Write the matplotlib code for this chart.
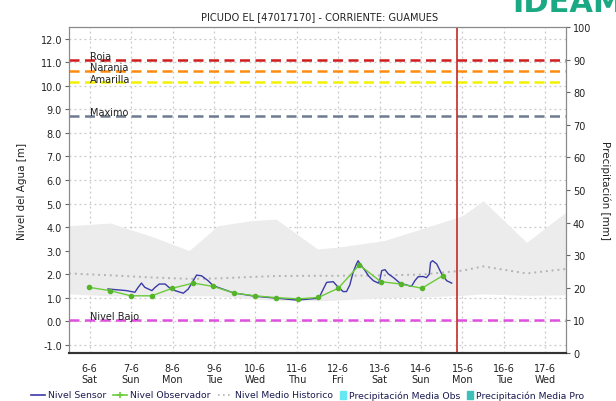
import matplotlib
matplotlib.use("Agg")
import matplotlib.pyplot as plt
from matplotlib.lines import Line2D
from matplotlib.patches import Rectangle

plt.rcParams['font.family'] = ['DejaVu Sans']

# ---- data (x = day of June 2020) ----
tick_days = [6, 7, 8, 9, 10, 11, 12, 13, 14, 15, 16, 17]
tick_dates = ["6-6", "7-6", "8-6", "9-6", "10-6", "11-6", "12-6", "13-6", "14-6", "15-6", "16-6", "17-6"]
tick_weekdays = ["Sat", "Sun", "Mon", "Tue", "Wed", "Thu", "Fri", "Sat", "Sun", "Mon", "Tue", "Wed"]

sensor_x = [6.44, 6.89, 7.09, 7.17, 7.25, 7.33, 7.50, 7.58, 7.68, 7.82, 7.94, 8.06,
            8.26, 8.38, 8.50, 8.58, 8.70, 8.86, 8.98, 9.48, 10.0, 10.5, 11.0, 11.5,
            11.56, 11.72, 11.88, 11.98, 12.12, 12.20, 12.28, 12.36, 12.44, 12.48,
            12.53, 12.65, 12.73, 12.85, 12.97, 13.01, 13.05, 13.13, 13.21, 13.33,
            13.49, 13.65, 13.77, 13.85, 13.93, 14.05, 14.13, 14.20, 14.23, 14.28,
            14.38, 14.50, 14.62, 14.74]
sensor_y = [1.37, 1.30, 1.23, 1.44, 1.62, 1.44, 1.30, 1.44, 1.58, 1.58, 1.40, 1.30,
            1.19, 1.37, 1.72, 1.96, 1.93, 1.72, 1.51, 1.20, 1.06, 0.98, 0.90, 0.97,
            1.08, 1.65, 1.68, 1.48, 1.26, 1.26, 1.54, 2.08, 2.43, 2.57,
            2.43, 2.15, 1.93, 1.72, 1.62, 1.79, 2.15, 2.19, 2.01, 1.86,
            1.62, 1.54, 1.48, 1.72, 1.89, 1.90, 1.85, 2.00, 2.50, 2.57,
            2.43, 2.00, 1.72, 1.62]

observer_x = [5.98, 6.49, 6.99, 7.50, 7.99, 8.50, 8.98, 9.48, 9.99, 10.51,
              11.04, 11.52, 12.00, 12.51, 13.03, 13.51, 14.02, 14.52]
observer_y = [1.44, 1.30, 1.08, 1.08, 1.40, 1.62, 1.48, 1.20, 1.08, 1.00,
              0.95, 1.01, 1.40, 2.39, 1.68, 1.58, 1.40, 1.93]

hist_x = [5.5, 6.5, 7.5, 8.4, 9.1, 9.9, 10.5, 11.5, 12.0, 13.1, 14.0, 15.0, 15.5, 16.55, 17.5]
hist_max = [4.06, 4.17, 3.60, 3.00, 4.06, 4.27, 4.34, 3.07, 3.15, 3.42, 3.92, 4.48, 5.12, 3.35, 4.64]
hist_min = [1.16, 1.08, 1.06, 1.08, 1.08, 0.95, 0.88, 0.87, 0.90, 1.00, 1.03, 1.10, 1.16, 1.10, 1.12]
hist_mean = [2.03, 1.95, 1.86, 1.80, 1.82, 1.88, 1.92, 1.93, 1.93, 1.95, 1.98, 2.15, 2.33, 2.03, 2.22]

levels = ["Roja", "Naranja", "Amarilla", "Maximo", "Nivel Bajo"]
level_values = [11.1, 10.63, 10.15, 8.72, 0.05]
level_colors = ["#d01c1c", "#ff8a10", "#f2f200", "#6e7a8e", "#e050e0"]

now_day = 14.87

W, H = 616, 402

# ---- figure ----
fig = plt.figure(figsize=(W / 100, H / 100), dpi=100)
ax = fig.add_axes([69 / W, 48 / H, 497 / W, 326 / H])
ax2 = ax.twinx()

ax.set_xlim(5.5, 17.5)
ax.set_ylim(-1.35, 12.5)
ax2.set_ylim(0, 100)

ax.fill_between(hist_x, hist_min, hist_max, color="#ececec", lw=0, zorder=1)
ax.plot(hist_x, hist_mean, color="#b4b4b4", lw=1.4, ls=(0, (1, 2)), zorder=2)

for name, val, col in zip(levels, level_values, level_colors):
    ax.axhline(val, color=col, lw=1.8, ls=(0, (4, 2.2)), zorder=3)
    ax.text(6.0, val - 0.06, name, fontsize=7, color="#222222",
            ha="left", va="bottom", zorder=6)

ax.plot(sensor_x, sensor_y, color="#3a3aa8", lw=1.0, zorder=4)
ax.plot(observer_x, observer_y, color="#6ccb3a", lw=1.0, marker="o",
        ms=3, mfc="#55b52a", mec="#55b52a", zorder=5)

ax.axvline(now_day, color="#c42a2a", lw=1.2, zorder=6)

# grid and axes styling
ax.set_yticks(range(-1, 13))
ax.set_yticklabels([f"{v:.1f}" for v in range(-1, 13)])
ax.set_xticks(tick_days)
ax.set_xticklabels([f"{d}\n{w}" for d, w in zip(tick_dates, tick_weekdays)])
ax.grid(True, color="#c8c8c8", ls=(0, (1.5, 2.5)), lw=0.9, zorder=0)
ax.set_axisbelow(True)
ax2.set_yticks(range(0, 101, 10))

for a in (ax, ax2):
    for side in ("left", "right", "top"):
        a.spines[side].set_color("#8a8a8a")
    a.spines["bottom"].set_color("#333333")
    a.spines["bottom"].set_linestyle((0, (1, 1)))
    a.spines["bottom"].set_linewidth(1.5)
ax.tick_params(axis="y", labelsize=7, length=3, color="#666666", pad=2, labelcolor="#222222")
ax.tick_params(axis="x", labelsize=7, length=0, pad=7, labelcolor="#222222")
ax2.tick_params(axis="y", labelsize=7, length=3, color="#666666", pad=2, labelcolor="#222222")

ax.set_ylabel("Nivel del Agua [m]", fontsize=7.5, color="#222222", labelpad=10)
ax2.set_ylabel("Precipitación [mm]", fontsize=7.5, color="#222222", rotation=-90, labelpad=14)
fig.text(320 / W, 1 - 17 / H, "PICUDO EL [47017170] - CORRIENTE: GUAMUES",
         fontsize=7.1, ha="center", va="center", color="#222222")

# logo text at the top right corner
fig.text(1.012, 1 - 12 / H, "IDEAM", fontsize=22, fontweight="bold",
         color="#1aa982", ha="right", va="baseline")

# ---- legend row, laid out left to right ----
ly = 1 - 396 / H
legend_items = [
    ("line", "#3a3aa8", "Nivel Sensor"),
    ("marker", "#6ccb3a", "Nivel Observador"),
    ("dots", "#b4b4b4", "Nivel Medio Historico"),
    ("box", "#66e8f0", "Precipitación Media Obs"),
    ("box", "#3cc0b8", "Precipitación Media Pro"),
]
renderer = fig.canvas.get_renderer()
x = 31.0
for kind, col, label in legend_items:
    if kind == "box":
        fig.patches.append(Rectangle((x / W, ly - 4 / H), 6 / W, 8 / H,
                                     transform=fig.transFigure, color=col))
        x += 9
    else:
        ls = (0, (1, 2)) if kind == "dots" else "-"
        fig.lines.append(Line2D([x / W, (x + 14) / W], [ly, ly], transform=fig.transFigure,
                                color=col, lw=1.2, ls=ls))
        if kind == "marker":
            fig.lines.append(Line2D([(x + 7) / W], [ly], transform=fig.transFigure,
                                    color=col, marker="+", ms=4, mew=1.2))
        x += 17
    t = fig.text(x / W, ly, label, fontsize=6.7, color="#1a1a50", ha="left", va="center")
    x += t.get_window_extent(renderer).width + 7

fig.savefig("out.png", dpi=100)
